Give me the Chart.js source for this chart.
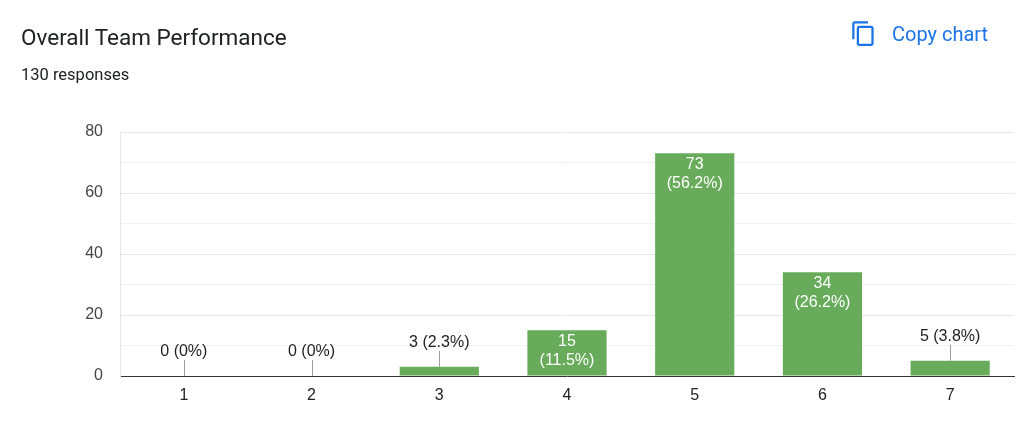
<!DOCTYPE html>
<html>
<head>
<meta charset="utf-8">
<script src="https://cdn.jsdelivr.net/npm/chart.js@4"></script>
<style>
  html, body { margin: 0; padding: 0; background: #fff; }
  body { width: 1024px; height: 428px; position: relative; overflow: hidden; font-family: Roboto, sans-serif; }
  #wrap { position: absolute; left: 0; top: 0; width: 1024px; height: 428px; }
  #title { position: absolute; left: 21px; top: 24px; font-size: 22.5px; color: #202124; white-space: nowrap; }
  #sub { position: absolute; left: 21px; top: 65px; font-size: 16.5px; color: #202124; white-space: nowrap; }
  #copy { position: absolute; left: 850px; top: 20px; display: flex; align-items: center; color: #1a73e8; font-size: 20px; font-weight: 400; white-space: nowrap; }
  #copy svg { margin-right: 15px; }
</style>
</head>
<body>
<div id="wrap"><canvas id="chart"></canvas></div>
<div id="title">Overall Team Performance</div>
<div id="sub">130 responses</div>
<div id="copy">
  <svg width="27" height="27" viewBox="0 0 24 24"><path fill="#1a73e8" d="M16 1H4c-1.1 0-2 .9-2 2v14h2V3h12V1zm3 4H8c-1.1 0-2 .9-2 2v14c0 1.1.9 2 2 2h11c1.1 0 2-.9 2-2V7c0-1.1-.9-2-2-2zm0 16H8V7h11v14z"/></svg>
  <span>Copy chart</span>
</div>
<script>
const categories = ['1', '2', '3', '4', '5', '6', '7'];
const counts = [0, 0, 3, 15, 73, 34, 5];
const totalResponses = 130;
const yTicks = [0, 20, 40, 60, 80];

const barColor = '#67ab5b';

function pctText(v) {
    if (!v) return '0%';
    return (v / totalResponses * 100).toFixed(1) + '%';
}

// Draw the count / percentage labels like Google Forms does
const barLabels = {
    id: 'barLabels',
    afterDatasetsDraw(chart) {
        const ctx = chart.ctx;
        const meta = chart.getDatasetMeta(0);
        ctx.save();
        ctx.font = '16px "Liberation Sans", Arial, sans-serif';
        ctx.textAlign = 'center';
        ctx.textBaseline = 'middle';
        meta.data.forEach((bar, i) => {
            const v = counts[i];
            const top = bar.y;
            const h = bar.base - bar.y;
            if (h >= 40) {
                ctx.fillStyle = '#ffffff';
                ctx.fillText(String(v), bar.x, top + 11);
                ctx.fillText('(' + pctText(v) + ')', bar.x, top + 30);
            } else {
                ctx.strokeStyle = '#9e9e9e';
                ctx.lineWidth = 1;
                ctx.beginPath();
                ctx.moveTo(Math.round(bar.x) + 0.5, top - 16);
                ctx.lineTo(Math.round(bar.x) + 0.5, top);
                ctx.stroke();
                ctx.fillStyle = '#1f1f1f';
                ctx.fillText(v + ' (' + pctText(v) + ')', bar.x, top - 24);
            }
        });
        ctx.restore();
    }
};

const chartEl = document.getElementById('chart').getContext('2d');
new Chart(chartEl, {
    type: 'bar',
    data: {
        labels: categories,
        datasets: [{
            data: counts,
            backgroundColor: barColor,
            borderWidth: 0,
            categoryPercentage: 1,
            barPercentage: 0.62
        }]
    },
    options: {
        responsive: true,
        maintainAspectRatio: false,
        animation: false,
        layout: { padding: { top: 132, right: 10, bottom: 0, left: 0 } },
        plugins: {
            legend: { display: false },
            tooltip: { enabled: false }
        },
        scales: {
            x: {
                afterFit: (s) => { s.height = 52; },
                grid: { display: false, drawTicks: false },
                border: { display: true, color: '#333333', width: 1 },
                ticks: {
                    padding: 10,
                    color: '#222222',
                    font: { family: '"Liberation Sans", Arial, sans-serif', size: 16 }
                }
            },
            y: {
                min: 0,
                max: 80,
                afterFit: (s) => { s.width = 120; },
                afterBuildTicks: (s) => {
                    s.ticks = [0, 10, 20, 30, 40, 50, 60, 70, 80].map(v => ({ value: v }));
                },
                grid: {
                    drawTicks: false,
                    color: (c) => {
                        const v = c.tick.value;
                        if (v === 0) return 'rgba(0,0,0,0)';
                        return yTicks.includes(v) ? '#e6e6e6' : '#f1f1f1';
                    }
                },
                border: { display: true, color: '#e6e6e6' },
                ticks: {
                    padding: 17,
                    color: '#444444',
                    font: { family: '"Liberation Sans", Arial, sans-serif', size: 16 },
                    callback: (v) => yTicks.includes(v) ? String(v) : ''
                }
            }
        }
    },
    plugins: [barLabels]
});
</script>
</body>
</html>
